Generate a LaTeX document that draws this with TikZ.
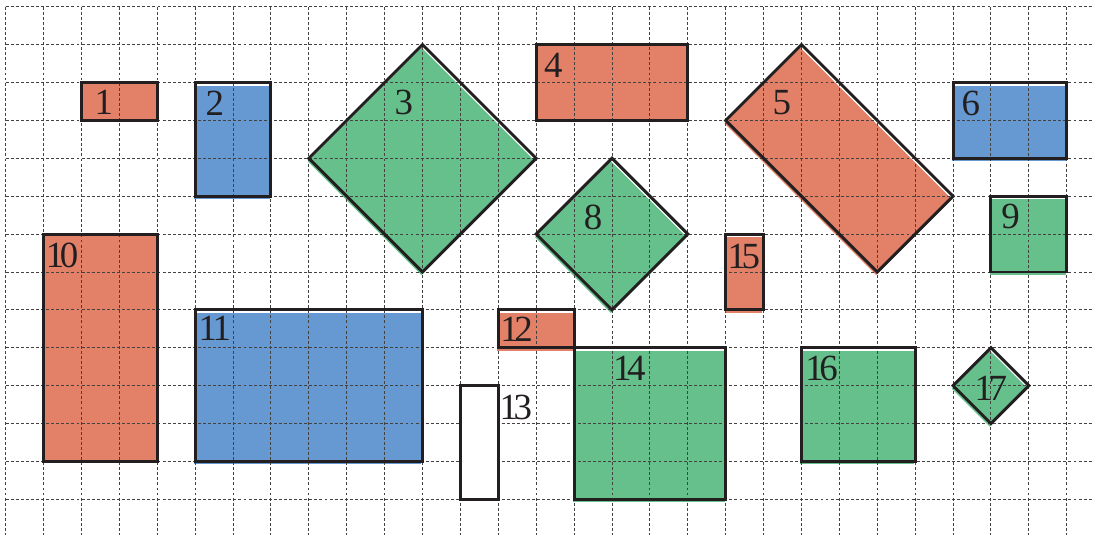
\documentclass[tikz,border=0pt]{standalone}
\usepackage{fontspec}
\setmainfont{Liberation Serif}
\definecolor{cred}{RGB}{226,128,104}
\definecolor{cblue}{RGB}{102,153,210}
\definecolor{cgreen}{RGB}{102,192,140}
\definecolor{ink}{RGB}{35,31,32}
\newcommand\twod[2]{#1\kern-0.12em#2}
\begin{document}
\begin{tikzpicture}[
  outline/.style={draw=ink, line width=2.2pt, line join=miter},
  gridline/.style={draw=ink!85, line width=0.7pt, dash pattern=on 2.2pt off 1.6pt},
  lab/.style={font=\fontsize{27.7}{30}\selectfont, text=ink, inner sep=0pt},
  fshift/.style={xshift=-0.03cm, yshift=-0.08cm}
]
\useasboundingbox (-0.15,0.177) rectangle (28.72,-13.94);
% fills
\fill[cred] (2,-2) rectangle (4,-3);
\fill[cred] (14,-1) rectangle (18,-3);
\fill[cred] (1,-6) rectangle (4,-12);
\begin{scope}[fshift]
\fill[cblue] (5,-2) rectangle (7,-5);
\fill[cgreen] (11,-1) -- (14,-4) -- (11,-7) -- (8,-4) -- cycle;
\fill[cred] (21,-1) -- (25,-5) -- (23,-7) -- (19,-3) -- cycle;
\fill[cblue] (25,-2) rectangle (28,-4);
\fill[cgreen] (16,-4) -- (18,-6) -- (16,-8) -- (14,-6) -- cycle;
\fill[cgreen] (26,-5) rectangle (28,-7);
\fill[cblue] (5,-8) rectangle (11,-12);
\fill[cred] (13,-8) rectangle (15,-9);
\fill[cgreen] (15,-9) rectangle (19,-13);
\fill[cred] (19,-6) rectangle (20,-8);
\fill[cgreen] (21,-9) rectangle (24,-12);
\fill[cgreen] (26,-9) -- (27,-10) -- (26,-11) -- (25,-10) -- cycle;
\end{scope}
% grid
\foreach \i in {0,...,28} \draw[gridline] (\i,0) -- (\i,-13.94);
\foreach \j in {0,...,13} \draw[gridline] (0,-\j) -- (28.72,-\j);
% outlines
\draw[outline] (2,-2) rectangle (4,-3);
\draw[outline] (5,-2) rectangle (7,-5);
\draw[outline] (11,-1) -- (14,-4) -- (11,-7) -- (8,-4) -- cycle;
\draw[outline] (14,-1) rectangle (18,-3);
\draw[outline] (21,-1) -- (25,-5) -- (23,-7) -- (19,-3) -- cycle;
\draw[outline] (25,-2) rectangle (28,-4);
\draw[outline] (16,-4) -- (18,-6) -- (16,-8) -- (14,-6) -- cycle;
\draw[outline] (26,-5) rectangle (28,-7);
\draw[outline] (1,-6) rectangle (4,-12);
\draw[outline] (5,-8) rectangle (11,-12);
\draw[outline] (13,-8) rectangle (15,-9);
\draw[outline, fill=white] (12,-10) rectangle (13,-13);
\draw[outline] (15,-9) rectangle (19,-13);
\draw[outline] (19,-6) rectangle (20,-8);
\draw[outline] (21,-9) rectangle (24,-12);
\draw[outline] (26,-9) -- (27,-10) -- (26,-11) -- (25,-10) -- cycle;
% labels
\node[lab] (l1) at (2.59,-2.53) {1};
\node[lab] (l2) at (5.52,-2.54) {2};
\node[lab] (l3) at (10.51,-2.53) {3};
\node[lab] (l4) at (14.45,-1.56) {4};
\node[lab] (l5) at (20.48,-2.53) {5};
\node[lab] (l6) at (25.47,-2.55) {6};
\node[lab] (l8) at (15.5,-5.56) {8};
\node[lab] (l9) at (26.52,-5.54) {9};
\node[lab] (l10) at (1.49,-6.55) {\twod10};
\node[lab] (l11) at (5.52,-8.49) {\twod11};
\node[lab] (l12) at (13.48,-8.5) {\twod12};
\node[lab] (l13) at (13.46,-10.57) {\twod13};
\node[lab] (l14) at (16.46,-9.55) {\twod14};
\node[lab] (l15) at (19.48,-6.6) {\twod15};
\node[lab] (l16) at (21.53,-9.55) {\twod16};
\node[lab] (l17) at (26.0,-10.06) {\twod17};
\end{tikzpicture}
\end{document}
